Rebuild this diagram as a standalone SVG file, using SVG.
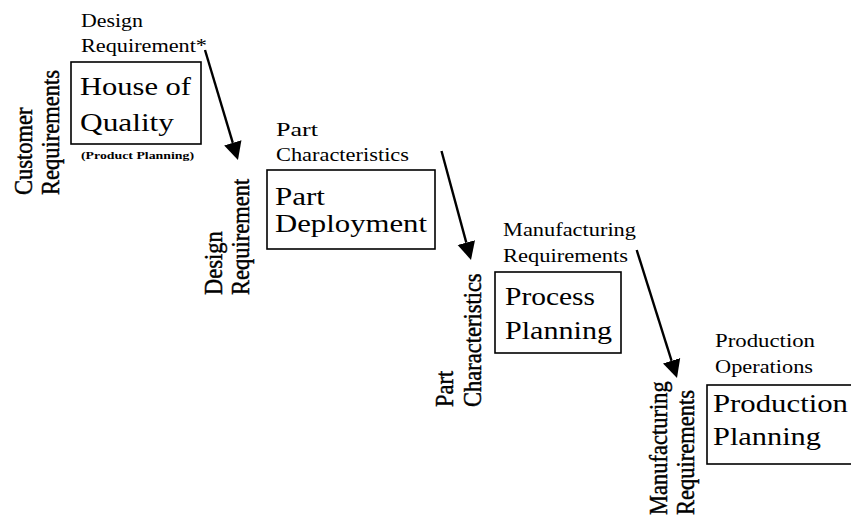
<svg xmlns="http://www.w3.org/2000/svg" width="851" height="519" viewBox="0 0 851 519">
<style>
.box{fill:none;stroke:#000;stroke-width:1.6}
.title{font-family:"Liberation Serif","Times New Roman",serif;font-size:26px;fill:#000}
.lbl{font-family:"Liberation Serif","Times New Roman",serif;font-size:19px;fill:#000}
.vl{font-family:"Liberation Serif","Times New Roman",serif;font-size:22.5px;fill:#000;stroke:#000;stroke-width:0.4}
.sub{font-family:"Liberation Serif","Times New Roman",serif;font-size:11px;font-weight:bold;fill:#000}
.arr{stroke:#000;stroke-width:2.4;fill:none}
</style>
<defs>
<marker id="ah" markerUnits="userSpaceOnUse" markerWidth="20" markerHeight="20" refX="0" refY="9" orient="auto" viewBox="0 0 20 18">
<path d="M0,0 L18,9 L0,18 z" fill="#000"/>
</marker>
</defs>
<rect width="851" height="519" fill="#fff"/>

<g id="house-of-quality">
<rect class="box" x="71" y="62" width="130" height="82"/>
<text class="title" x="80" y="95" textLength="111" lengthAdjust="spacingAndGlyphs">House of</text>
<text class="title" x="80" y="131" textLength="94" lengthAdjust="spacingAndGlyphs">Quality</text>
<text class="sub" x="81" y="159" textLength="113" lengthAdjust="spacingAndGlyphs">(Product Planning)</text>
<text class="lbl" x="81" y="27" textLength="62" lengthAdjust="spacingAndGlyphs">Design</text>
<text class="lbl" x="81" y="52" textLength="126" lengthAdjust="spacingAndGlyphs">Requirement*</text>
<text class="vl" transform="translate(31.5,195) scale(1.12,1) rotate(-90)">Customer</text>
<text class="vl" transform="translate(58.5,195) scale(1.12,1) rotate(-90)">Requirements</text>
</g>

<g id="part-deployment">
<rect class="box" x="267" y="170" width="168" height="79"/>
<text class="title" x="275" y="205" textLength="50" lengthAdjust="spacingAndGlyphs">Part</text>
<text class="title" x="275" y="232" textLength="152" lengthAdjust="spacingAndGlyphs">Deployment</text>
<text class="lbl" x="276" y="136" textLength="42" lengthAdjust="spacingAndGlyphs">Part</text>
<text class="lbl" x="276" y="161" textLength="133" lengthAdjust="spacingAndGlyphs">Characteristics</text>
<text class="vl" transform="translate(222,295) scale(1.12,1) rotate(-90)">Design</text>
<text class="vl" transform="translate(249,295) scale(1.12,1) rotate(-90)">Requirement</text>
</g>

<g id="process-planning">
<rect class="box" x="495" y="272" width="126" height="81"/>
<text class="title" x="505" y="305" textLength="90" lengthAdjust="spacingAndGlyphs">Process</text>
<text class="title" x="505" y="339" textLength="107" lengthAdjust="spacingAndGlyphs">Planning</text>
<text class="lbl" x="503" y="236" textLength="133" lengthAdjust="spacingAndGlyphs">Manufacturing</text>
<text class="lbl" x="503" y="262" textLength="125" lengthAdjust="spacingAndGlyphs">Requirements</text>
<text class="vl" transform="translate(453,407) scale(1.12,1) rotate(-90)">Part</text>
<text class="vl" transform="translate(481,407) scale(1.12,1) rotate(-90)">Characteristics</text>
</g>

<g id="production-planning">
<rect class="box" x="707" y="385" width="160" height="79"/>
<text class="title" x="713" y="412" textLength="135" lengthAdjust="spacingAndGlyphs">Production</text>
<text class="title" x="713" y="445" textLength="108" lengthAdjust="spacingAndGlyphs">Planning</text>
<text class="lbl" x="715" y="347" textLength="100" lengthAdjust="spacingAndGlyphs">Production</text>
<text class="lbl" x="715" y="373" textLength="98" lengthAdjust="spacingAndGlyphs">Operations</text>
<text class="vl" transform="translate(667,515) scale(1.12,1) rotate(-90)">Manufacturing</text>
<text class="vl" transform="translate(694,515) scale(1.12,1) rotate(-90)">Requirements</text>
</g>

<g id="connectors">
<line class="arr" x1="205" y1="50" x2="232.8" y2="142.8" marker-end="url(#ah)"/>
<line class="arr" x1="441.5" y1="151" x2="466.3" y2="242.6" marker-end="url(#ah)"/>
<line class="arr" x1="636.7" y1="250" x2="671.6" y2="360.8" marker-end="url(#ah)"/>
</g>
</svg>
